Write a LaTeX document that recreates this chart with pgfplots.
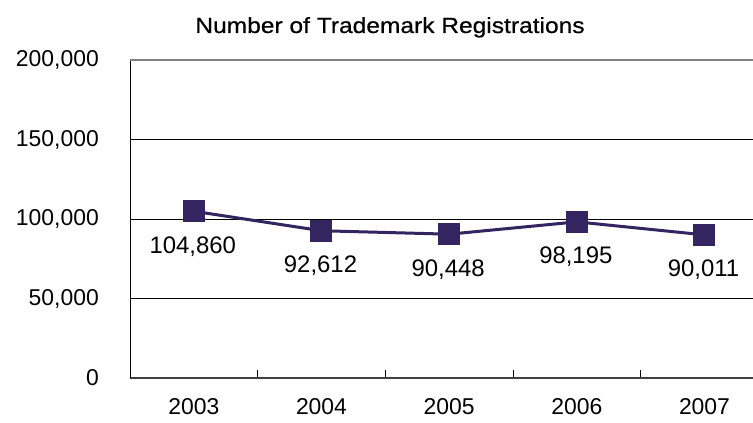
\documentclass[border=0pt]{standalone}
\usepackage{pgfplots}
\pgfplotsset{compat=1.18}
\usepackage{fontspec}
\setmainfont{Liberation Sans}
\newfontfamily\titlefont[FakeStretch=1.12,FakeBold=0.6]{Liberation Sans}
\newfontfamily\tickfont{Liberation Sans}
\definecolor{linecol}{RGB}{52,36,96}
\begin{document}
\begin{tikzpicture}
\begin{axis}[
  at={(0,0)}, anchor=south west,
  scale only axis, width=623bp, height=318bp,
  xmin=-0.5, xmax=4.38, ymin=0, ymax=200000,
  scaled y ticks=false,
  axis x line*=bottom, axis y line*=left,
  axis line style={-},
  x axis line style={draw=black!75, line width=1.8bp},
  y axis line style={draw=black, line width=0.8bp},
  xtick={0.5,1.5,2.5,3.5}, xticklabels={},
  tick align=inside, major tick length=8bp,
  xtick style={draw=black, line width=0.7bp},
  extra x ticks={0,1,2,3,4},
  extra x tick labels={2003,2004,2005,2006,2007},
  extra x tick style={major tick length=0pt, xtick style={draw=none}},
  xticklabel style={font=\tickfont\fontsize{23}{26}\selectfont, anchor=center, inner sep=0pt, yshift=-29bp},
  ytick={0,50000,100000,150000},
  yticklabels={0,{50,000},{100,000},{150,000}},
  ytick style={draw=none},
  yticklabel style={font=\tickfont\fontsize{23}{26}\selectfont, anchor=east, inner sep=0pt, xshift=-31bp},
  ymajorgrids, grid style={draw=black, line width=0.7bp},
  clip=false,
  nodes near coords,
  point meta=explicit symbolic,
  every node near coord/.append style={font=\fontsize{24}{26}\selectfont, anchor=center, yshift=-35bp, xshift=-1bp, text=black},
]
\addplot[color=linecol, line width=3bp, mark=square*, mark size=9.5bp, mark options={fill=linecol, draw=linecol}]
  table[x=x, y=y, meta=label] {
x y label
0 104860 104,860
1 92612 92,612
2 90448 90,448
3 98195 98,195
4 90011 90,011
};
\draw[draw=black!50, line width=2bp] (axis cs:-0.5,200000) -- (axis cs:4.38,200000);
\node[font=\tickfont\fontsize{23}{26}\selectfont, anchor=east, inner sep=0pt] at ([xshift=-31bp]axis cs:-0.5,200000) {200,000};
\end{axis}
\node[font=\titlefont\fontsize{22}{24}\selectfont, anchor=base, inner sep=0pt] at (260bp,345bp) {Number of Trademark Registrations};
\pgfresetboundingbox
\path[use as bounding box] (-130bp,-45bp) rectangle (623bp,378bp);
\end{tikzpicture}
\end{document}
